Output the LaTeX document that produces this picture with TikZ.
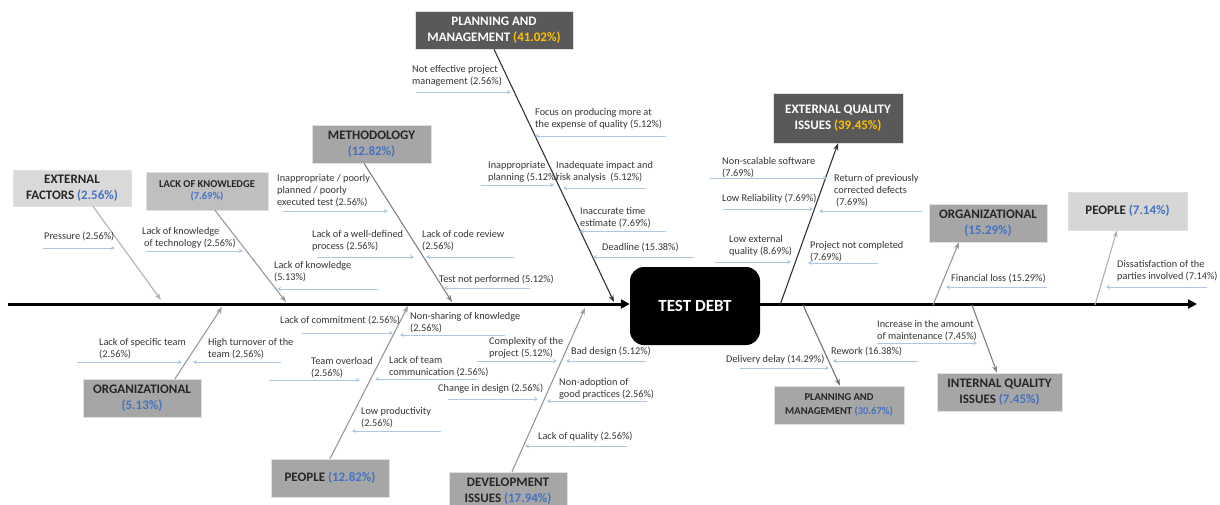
\documentclass[tikz,border=0pt]{standalone}
\usepackage{fontspec}
\setmainfont{Carlito}
\usetikzlibrary{arrows.meta,calc}
\definecolor{pctblue}{HTML}{4472C4}
\definecolor{pctgold}{HTML}{FFC000}
\definecolor{cuecol}{HTML}{ADC6E6}
\definecolor{lbltext}{HTML}{363636}
\definecolor{boxlight}{HTML}{D9D9D9}
\definecolor{boxmid}{HTML}{BFBFBF}
\definecolor{boxgray}{HTML}{A6A6A6}
\definecolor{boxdark}{HTML}{595959}
\newcommand\pb[1]{\textcolor{pctblue}{#1}}
\newcommand\pg[1]{\textcolor{pctgold}{#1}}
% label text with its small arrow underneath
\newcommand\causelabel[7]{%
  \node[lbl] (#1) at (#2,{#3-5}) {#4};
  \coordinate (#1-s) at (#5,#7);
  \coordinate (#1-e) at (#6,#7);
  \draw[cue] (#1-s) -- (#1-e);}
\begin{document}
\begin{tikzpicture}[x=1pt,y=-1pt,
  lbl/.style={anchor=north west, inner sep=0pt, align=left, text=lbltext,
    font=\fontsize{10.3}{12}\selectfont},
  cue/.style={draw=cuecol, line width=0.8pt, -{Stealth[length=4pt,width=4pt]}},
  catbox/.style={rectangle, draw=black!12, line width=0.6pt, inner sep=0pt,
    align=center, text=black!85, font=\bfseries\fontsize{13}{16}\selectfont},
  darkbox/.style={catbox, fill=boxdark, text=white},
  bone/.style={line width=1.1pt, draw=black!40, -{Stealth[length=7pt,width=5pt]}},
  spine/.style={line width=3pt, draw=black, -{Triangle[length=9pt,width=9pt]}},
  debtbox/.style={rectangle, rounded corners=14pt, fill=black, text=white,
    minimum width=130pt, minimum height=78pt, font=\bfseries\fontsize{17}{20}\selectfont},
]
\fill[white] (0,0) rectangle (1220,504);
\useasboundingbox (0,0) rectangle (1220,504);

% ---- central effect and spine
\node[debtbox] (debt) at (695,306) {TEST DEBT};
\coordinate (tail) at (8,304);
\coordinate (head) at (1197,304);
\draw[spine] (tail) -- (tail -| debt.west);
\draw[spine] (debt.east |- head) -- (head);

% ---- category boxes
\node[catbox, fill=boxlight, minimum width=118pt, minimum height=36pt] (ef) at (72,188)
  {EXTERNAL\\FACTORS \pb{(2.56\%)}};
\node[catbox, fill=boxmid, minimum width=122pt, minimum height=38pt,
  font=\bfseries\fontsize{10.5}{12.5}\selectfont] (lk) at (207,191)
  {LACK OF KNOWLEDGE\\\pb{(7.69\%)}};
\node[catbox, fill=boxgray, minimum width=119pt, minimum height=38pt] (meth) at (371.5,144)
  {METHODOLOGY\\\pb{(12.82\%)}};
\node[darkbox, minimum width=158pt, minimum height=38pt,
  font=\bfseries\fontsize{13}{16}\selectfont] (pm1) at (494,30)
  {PLANNING AND\\MANAGEMENT \pg{(41.02\%)}};
\node[darkbox, minimum width=130pt, minimum height=50pt] (eq) at (838,118)
  {EXTERNAL QUALITY\\ISSUES \pg{(39.45\%)}};
\node[catbox, fill=boxgray, minimum width=118pt, minimum height=38pt] (org1) at (988,223)
  {ORGANIZATIONAL\\\pb{(15.29\%)}};
\node[catbox, fill=boxlight!90!boxmid, minimum width=119pt, minimum height=38pt] (ppl1) at (1127.5,211)
  {PEOPLE \pb{(7.14\%)}};
\node[catbox, fill=boxgray, minimum width=118pt, minimum height=38pt] (org2) at (142,398)
  {ORGANIZATIONAL\\\pb{(5.13\%)}};
\node[catbox, fill=boxgray, minimum width=118pt, minimum height=38pt] (ppl2) at (330,478)
  {PEOPLE \pb{(12.82\%)}};
\node[catbox, fill=boxgray, minimum width=118pt, minimum height=38pt] (dev) at (508,491)
  {DEVELOPMENT\\ISSUES \pb{(17.94\%)}};
\node[catbox, fill=boxgray, minimum width=130pt, minimum height=38pt,
  font=\bfseries\fontsize{10.5}{14}\selectfont] (pm2) at (839,405)
  {PLANNING AND\\MANAGEMENT \pb{(30.67\%)}};
\node[catbox, fill=boxgray, minimum width=125pt, minimum height=38pt] (iq) at (999.5,392)
  {INTERNAL QUALITY\\ISSUES \pb{(7.45\%)}};

% ---- bones
\coordinate (ef-j) at (161,300);
\coordinate (lk-j) at (286,302);
\coordinate (meth-j) at (452,302);
\coordinate (pm1-j) at (614,302);
\coordinate (eq-j) at (780,305);
\coordinate (org1-j) at (933,305);
\coordinate (ppl1-j) at (1095,305);
\coordinate (org2-j) at (222,307);
\coordinate (ppl2-j) at (408,306);
\coordinate (dev-j) at (585,308);
\coordinate (pm2-j) at (803,305);
\coordinate (iq-j) at (972,305);
\draw[bone, draw=black!30] ($(ef.south)+(21,0)$) -- (ef-j);
\draw[bone, draw=black!40] ($(lk.south)+(8,0)$) -- (lk-j);
\draw[bone, draw=black!50] ($(meth.south)+(-7.5,0)$) -- (meth-j);
\draw[bone, draw=black!80] (pm1.south) -- (pm1-j);
\draw[bone, draw=black!80] (eq-j) -- (eq.south);
\draw[bone, draw=black!40] (org1-j) -- ($(org1.south)+(-29,0)$);
\draw[bone, draw=black!30] (ppl1-j) -- ($(ppl1.south)+(-10.5,0)$);
\draw[bone, draw=black!40] ($(org2.north)+(33,0)$) -- (org2-j);
\draw[bone, draw=black!40] (ppl2.north) -- (ppl2-j);
\draw[bone, draw=black!40] ($(dev.north)+(4,0)$) -- (dev-j);
\draw[bone, draw=black!55] (pm2-j) -- ($(pm2.north)+(1,0)$);
\draw[bone, draw=black!50] (iq-j) -- ($(iq.north)+(-2.5,0)$);

% ---- causes above the spine, left side
\causelabel{c1}{44}{237}{Pressure (2.56\%)}{43}{115}{248}
\causelabel{c2}{142}{232}{Lack of knowledge\\\hspace{2pt}of technology (2.56\%)}{146}{243}{251}
\causelabel{c3}{274}{266}{Lack of knowledge\\(5.13\%)}{378}{277}{289}
\causelabel{c4}{277}{179}{Inappropriate / poorly\\planned / poorly\\executed test (2.56\%)}{283}{388}{211}
\causelabel{c5}{312}{235}{Lack of a well-defined\\process (2.56\%)}{317}{414}{257}
\causelabel{c6}{422}{235}{Lack of code review\\(2.56\%)}{514}{426}{257}
\causelabel{c7}{439}{280}{Test not performed (5.12\%)}{530}{444}{288}
\causelabel{c8}{412}{70}{Not effective project\\management (2.56\%)}{416}{511}{92}
\causelabel{c9}{535}{113}{Focus on producing more at\\the expense of quality (5.12\%)}{666}{535}{136}
\causelabel{c10}{488}{166}{Inappropriate\\planning (5.12\%)}{481}{554}{185}
\causelabel{c11}{556}{166}{Inadequate impact and\\risk analysis\ \ (5.12\%)}{646}{563}{188}
\causelabel{c12}{580}{212}{Inaccurate time\\estimate (7.69\%)}{666}{580}{231}
\causelabel{c13}{602}{248}{Deadline (15.38\%)}{694}{593}{257}

% ---- causes above the spine, right side
\causelabel{r1}{722}{162}{Non-scalable software\\(7.69\%)}{710}{827}{178}
\causelabel{r2}{722}{199}{Low Reliability (7.69\%)}{723}{813}{209}
\causelabel{r3}{834}{179}{Return of previously\\corrected defects\\\hspace{2pt}(7.69\%)}{922}{819}{211}
\causelabel{r4}{729}{240}{Low external\\quality (8.69\%)}{715}{791}{262}
\causelabel{r5}{810}{246}{Project not completed\\(7.69\%)}{878}{808}{263}
\causelabel{r6}{951}{279}{Financial loss (15.29\%)}{1047}{946}{287}
\causelabel{r7}{1117}{265}{Dissatisfaction of the\\parties involved (7.14\%)}{1207}{1106}{287}

% ---- causes below the spine, left side
\causelabel{b1}{99}{343}{Lack of specific team\\(2.56\%)}{77}{182}{362}
\causelabel{b2}{208}{343}{High turnover of the\\team (2.56\%)}{281}{193}{362}
\causelabel{b3}{280}{321}{Lack of commitment (2.56\%)}{302}{393}{333}
\causelabel{b4}{311}{362}{Team overload\\(2.56\%)}{269}{360}{380}
\causelabel{b5}{389}{361}{Lack of team\\communication (2.56\%)}{477}{375}{379}
\causelabel{b6}{361}{412}{Low productivity\\(2.56\%)}{441}{352}{431}
\causelabel{b7}{410}{317}{Non-sharing of knowledge\\(2.56\%)}{505}{400}{335}
\causelabel{b8}{489}{342}{Complexity of the\\project (5.12\%)}{477}{557}{361}
\causelabel{b9}{571}{352}{Bad design (5.12\%)}{646}{566}{361}
\causelabel{b10}{438}{389}{Change in design (2.56\%)}{448}{538}{399}
\causelabel{b11}{559}{383}{Non-adoption of\\good practices (2.56\%)}{647}{547}{401}
\causelabel{b12}{538}{437}{Lack of quality (2.56\%)}{627}{525}{446}

% ---- causes below the spine, right side
\causelabel{b13}{877}{325}{Increase in the amount\\of maintenance (7.45\%)}{877}{977}{343}
\causelabel{b14}{831}{352}{Rework (16.38\%)}{918}{833}{361}
\causelabel{b15}{726}{360}{Delivery delay (14.29\%)}{740}{829}{368}
\end{tikzpicture}
\end{document}
